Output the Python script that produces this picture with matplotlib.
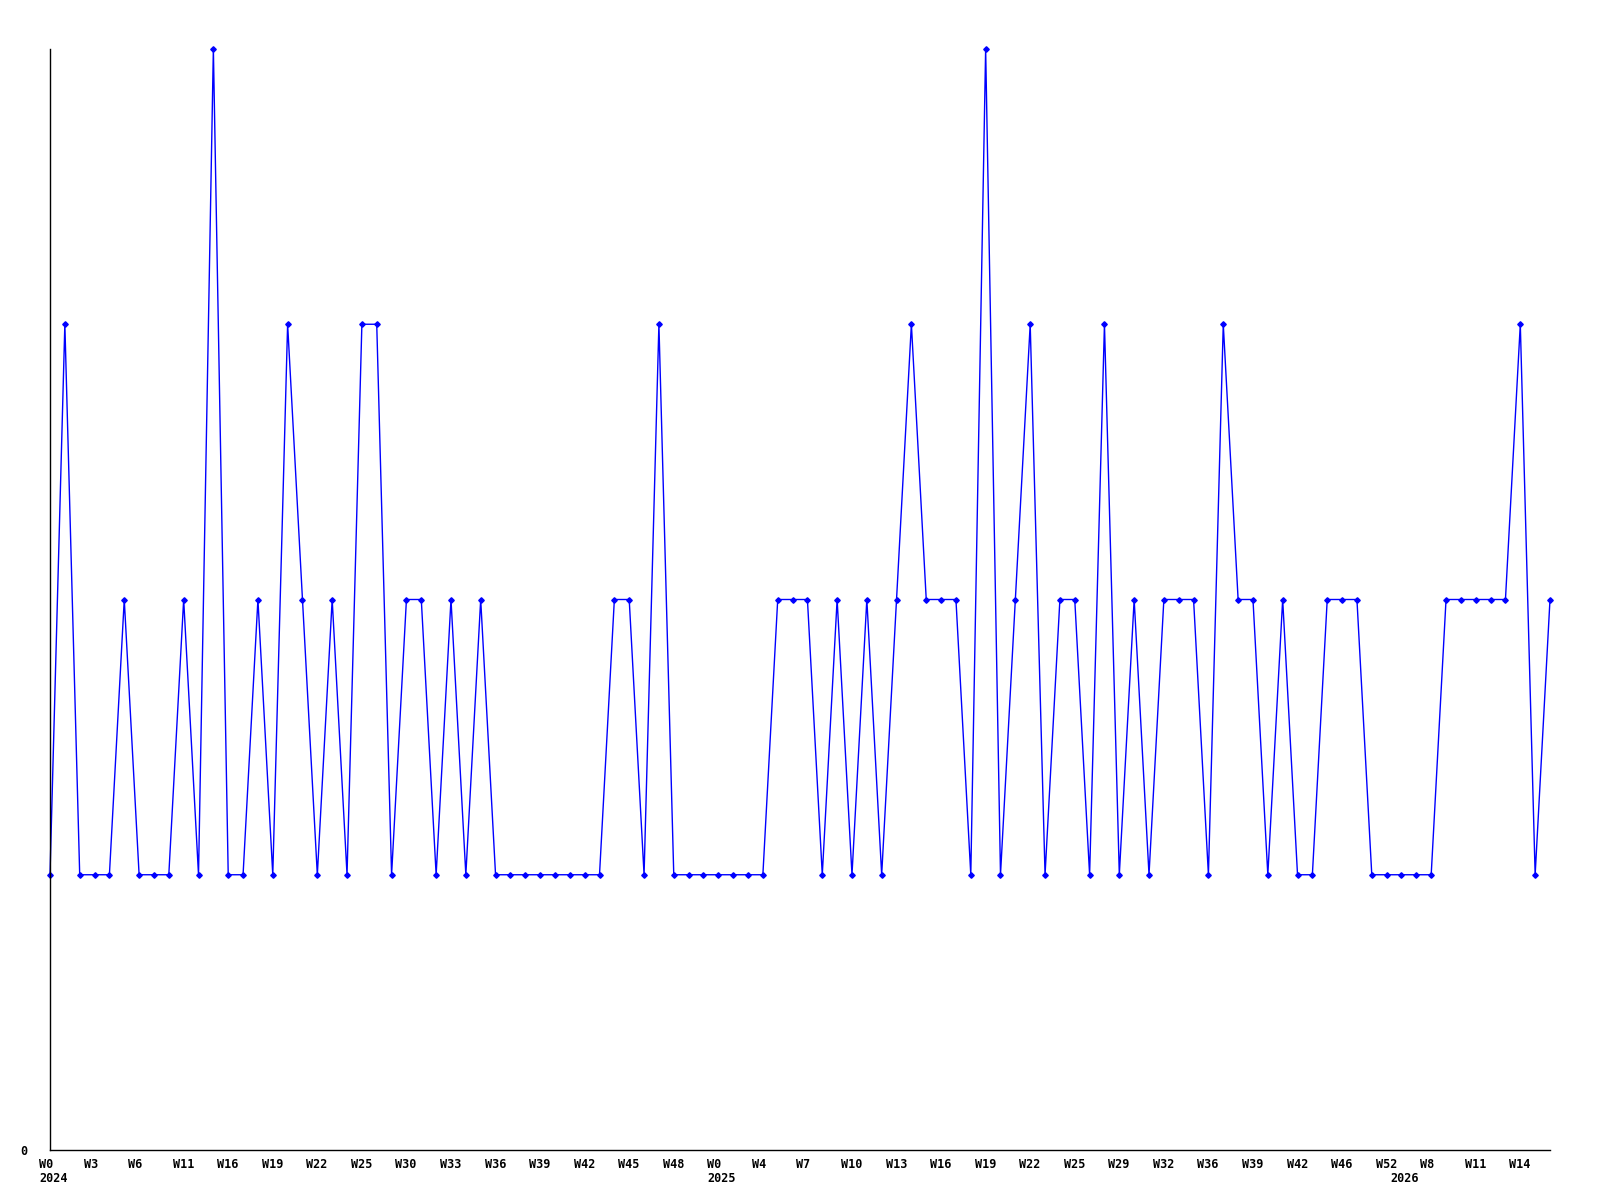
import matplotlib
matplotlib.use("Agg")
from matplotlib import pyplot as plt
import matplotlib.transforms as mtransforms

# weekly counts, one per point
values = [1, 3, 1, 1, 1, 2, 1, 1, 1, 2, 1, 4, 1, 1, 2, 1, 3, 2, 1, 2,
          1, 3, 3, 1, 2, 2, 1, 2, 1, 2, 1, 1, 1, 1, 1, 1, 1, 1, 2, 2,
          1, 3, 1, 1, 1, 1, 1, 1, 1, 2, 2, 2, 1, 2, 1, 2, 1, 2, 3, 2,
          2, 2, 1, 4, 1, 2, 3, 1, 2, 2, 1, 3, 1, 2, 1, 2, 2, 2, 1, 3,
          2, 2, 1, 2, 1, 1, 2, 2, 2, 1, 1, 1, 1, 1, 2, 2, 2, 2, 2, 3,
          1, 2]

# a label on every third point
week_labels = ['W0', 'W3', 'W6', 'W11', 'W16', 'W19', 'W22', 'W25', 'W30',
               'W33', 'W36', 'W39', 'W42', 'W45', 'W48', 'W0', 'W4', 'W7',
               'W10', 'W13', 'W16', 'W19', 'W22', 'W25', 'W29', 'W32',
               'W36', 'W39', 'W42', 'W46', 'W52', 'W8', 'W11', 'W14']
week_every = 3

years = ['2024', '2025', '2026']
year_index = [0, 45, 91]

font = dict(family='DejaVu Sans Mono', weight='bold', size=8.5)

fig = plt.figure(figsize=(16, 12), dpi=100)
ax = fig.add_axes([50 / 1600, 50 / 1200, 1500 / 1600, 1101 / 1200])

x = list(range(len(values)))
ax.plot(x, values, color='#0000ff', linewidth=1.0, marker='D',
        markersize=2.8, clip_on=False)

ax.set_xlim(0, len(values) - 1)
ax.set_ylim(0, 4)

for side in ('top', 'right'):
    ax.spines[side].set_visible(False)
for side in ('left', 'bottom'):
    ax.spines[side].set_linewidth(1.0)
    ax.spines[side].set_color('black')

ax.set_xticks(list(range(0, len(values), week_every))[:len(week_labels)])
ax.set_xticklabels(week_labels, fontdict=font)
ax.set_yticks([0])
ax.set_yticklabels(['0'], fontdict=font)
ax.tick_params(axis='x', length=0, pad=6)
ax.tick_params(axis='y', length=0, pad=16)

# labels start a little left of their point
shift = mtransforms.ScaledTranslation(-11 / 100, 0, fig.dpi_scale_trans)
for lbl in ax.get_xticklabels():
    lbl.set_horizontalalignment('left')
    lbl.set_transform(lbl.get_transform() + shift)

trans = mtransforms.blended_transform_factory(ax.transData, ax.transAxes)
for yr, i in zip(years, year_index):
    ax.text(i, -0.026, yr, transform=trans + shift, ha='left', va='center',
            fontdict=font)

fig.savefig('out.png', dpi=100)
